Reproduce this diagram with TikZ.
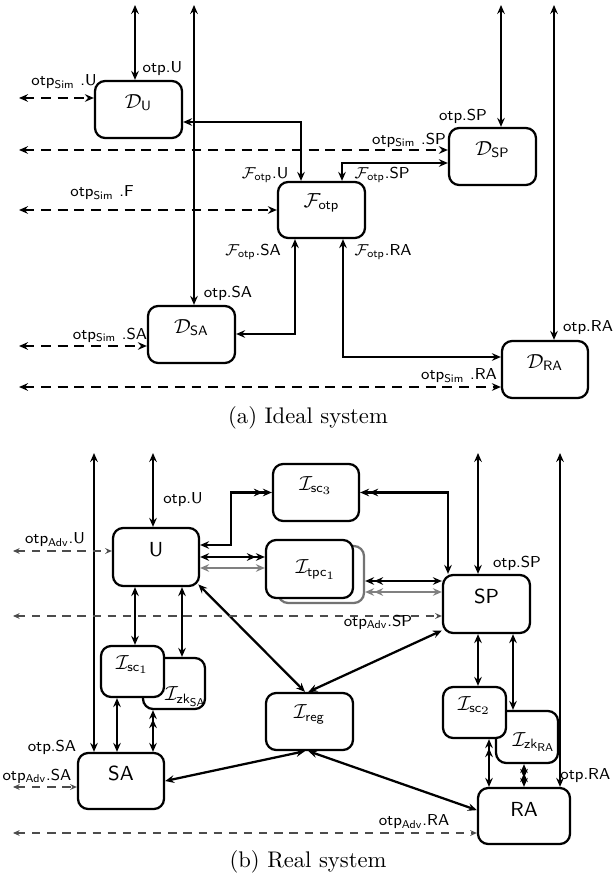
\documentclass[tikz,border=0pt]{standalone}
\usepackage{amsmath}
\usetikzlibrary{arrows.meta,fit}
\begin{document}
\begin{tikzpicture}[x=0.4425pt,y=-0.4425pt,
  >={Stealth[length=4pt,width=3.4pt,inset=1.4pt]},
  box/.style={draw,line width=1pt,rounded corners=4.5pt,fill=white,inner sep=0pt,font=\small\sffamily},
  sbox/.style={box,draw=black!55},
  con/.style={line width=1pt,<->},
  gcon/.style={line width=1pt,draw=black!50},
  dsh/.style={line width=1pt,<->,dash pattern=on 4.4pt off 3pt},
  dshb/.style={line width=0.6pt,draw=black!70,dash pattern=on 3.7pt off 3pt,
     arrows={Stealth[length=3pt,width=2.6pt,inset=1.1pt]-Stealth[length=3pt,width=2.6pt,inset=1.1pt]}},
  lbl/.style={font=\scriptsize\sffamily,inner sep=1pt},
  txt/.style={font=\small\sffamily,inner sep=0pt},
  captext/.style={font=\normalsize\rmfamily,inner sep=0pt},
]
\useasboundingbox (0,0) rectangle (614,885);

% ================= (a) Ideal system =================
\node[box,fit={(95,81)(182,138)}] (DU) {$\mathcal{D}_{\textsf{U}}$};
\node[box,fit={(449,128)(536,185)}] (DSP) {$\mathcal{D}_{\textsf{SP}}$};
\node[box,fit={(278,182)(365,238)}] (Fotp) {$\mathcal{F}_{\textsf{otp}}$};
\node[box,fit={(148,306)(235,363)}] (DSA) {$\mathcal{D}_{\textsf{SA}}$};
\node[box,fit={(502,341)(588,398)}] (DRA) {$\mathcal{D}_{\textsf{RA}}$};

\coordinate (t1) at (135,5);
\coordinate (t2) at (194,5);
\coordinate (t3) at (501,5);
\coordinate (t4) at (554,5);
\draw[con] (t1) -- (t1 |- DU.north);
\draw[con] (t2) -- (t2 |- DSA.north);
\draw[con] (t3) -- (t3 |- DSP.north);
\draw[con] (t4) -- (t4 |- DRA.north);

\draw[con] (DU.east |- 0,122) -| (301,0 |- Fotp.north);
\draw[con] (342,0 |- Fotp.north) |- (DSP.west |- 0,163);
\draw[con] (295,0 |- Fotp.south) |- (DSA.east |- 0,334);
\draw[con] (343,0 |- Fotp.south) |- (DRA.west |- 0,357);

\coordinate (d1) at (19,98);
\coordinate (d2) at (19,150);
\coordinate (d3) at (19,210);
\coordinate (d4) at (19,346);
\coordinate (d5) at (19,387);
\draw[dsh] (d1) -- (d1 -| DU.west);
\draw[dsh] (d2) -- (d2 -| DSP.west);
\draw[dsh] (d3) -- (d3 -| Fotp.west);
\draw[dsh] (d4) -- (d4 -| DSA.west);
\draw[dsh] (d5) -- (d5 -| DRA.west);

\node[lbl,anchor=west] (a1) at (140,69) {otp.U};
\node[lbl] (a2) at (64,82) {otp$_{\textsf{Sim}}$ .U};
\node[lbl] (a3) at (409,140) {otp$_{\textsf{Sim}}$ .SP};
\node[lbl] (a4) at (463,116) {otp.SP};
\node[lbl] (a5) at (265,175) {$\mathcal{F}_{\textsf{otp}}$.U};
\node[lbl] (a6) at (382,175) {$\mathcal{F}_{\textsf{otp}}$.SP};
\node[lbl] (a7) at (102,193) {otp$_{\textsf{Sim}}$ .F};
\node[lbl] (a8) at (253,252) {$\mathcal{F}_{\textsf{otp}}$.SA};
\node[lbl] (a9) at (383,252) {$\mathcal{F}_{\textsf{otp}}$.RA};
\node[lbl] (a10) at (228,293) {otp.SA};
\node[lbl] (a11) at (110,335) {otp$_{\textsf{Sim}}$ .SA};
\node[lbl] (a12) at (588,328) {otp.RA};
\node[lbl] (a13) at (459,376) {otp$_{\textsf{Sim}}$ .RA};
\node[captext] (capa) at (308,418) {(a) Ideal system};

% ================= (b) Real system =================
\node[box,fit={(273,464)(359,521)}] (Isc3) {$\mathcal{I}_{\textsf{sc}_3}$};
\node[box,fit={(113,528)(199,586)}] (U) {U};
\node[sbox,fit={(278,546)(364,603)}] (Itpcs) {};
\node[box,fit={(266,540)(353,598)}] (Itpc) {};
\node[txt] (Itpct) at (316,570) {$\mathcal{I}_{\textsf{tpc}_1}$};
\node[box,fit={(443,575)(530,633)}] (SP) {SP};
\node[box,fit={(143,658)(205,709)}] (IzkSA) {};
\node[txt] (IzkSAt) at (186,697) {$\mathcal{I}_{\textsf{zk}_{\textsf{SA}}}$};
\node[box,fit={(101,646)(164,697)}] (Isc1) {$\mathcal{I}_{\textsf{sc}_1}$};
\node[box,fit={(266,693)(353,750)}] (Ireg) {$\mathcal{I}_{\textsf{reg}}$};
\node[box,fit={(496,711)(558,763)}] (IzkRA) {};
\node[txt] (IzkRAt) at (534,742) {$\mathcal{I}_{\textsf{zk}_{\textsf{RA}}}$};
\node[box,fit={(443,687)(506,738)}] (Isc2) {$\mathcal{I}_{\textsf{sc}_2}$};
\node[box,fit={(78,753)(164,809)}] (SA) {SA};
\node[box,fit={(478,788)(570,844)}] (RA) {RA};

\coordinate (b1) at (94,453);
\coordinate (b2) at (153,453);
\coordinate (b3) at (478,453);
\coordinate (b4) at (560,453);
\draw[con] (b1) -- (b1 |- SA.north);
\draw[con] (b2) -- (b2 |- U.north);
\draw[con] (b3) -- (b3 |- SP.north);
\draw[con] (b4) -- (b4 |- RA.north);

\draw[line width=1pt,<->>] (U.east |- 0,545) -- ++(31,0) |- (Isc3.west);
\draw[line width=1pt,<<->] (Isc3.east) -| (448,0 |- SP.north);
\draw[line width=1pt,<->>] (U.east |- 0,557) -- (Itpc.west |- 0,557);
\draw[gcon,<->] (U.east |- 0,568) -- (Itpc.west |- 0,568);
\draw[line width=1pt,<<->] (Itpcs.east |- 0,581) -- (SP.west |- 0,581);
\draw[gcon,<<->] (Itpcs.east |- 0,592) -- (SP.west |- 0,592);

\draw[con] (135,0 |- U.south) -- (135,0 |- Isc1.north);
\draw[con] (182,0 |- U.south) -- (182,0 |- IzkSA.north);
\draw[con] (117,0 |- Isc1.south) -- (117,0 |- SA.north);
\draw[line width=1pt,<<->] (153,0 |- IzkSA.south) -- (153,0 |- SA.north);

\draw[con] ([xshift=-0.8pt,yshift=1.2pt]U.south east) -- ([xshift=-2pt]Ireg.north);
\draw[con] ([yshift=1.6pt]SP.south west) -- ([xshift=-0.5pt]Ireg.north);
\draw[con] (SA.east) -- ([xshift=-2pt]Ireg.south);
\draw[con] ([yshift=2.6pt]RA.west) -- ([xshift=-0.5pt]Ireg.south);

\draw[con] (478,0 |- SP.south) -- (478,0 |- Isc2.north);
\draw[con] (513,0 |- SP.south) -- (513,0 |- IzkRA.north);
\draw[line width=1pt,<<->] (489,0 |- Isc2.south) -- (489,0 |- RA.north);
\draw[line width=1pt,<<->>] (524,0 |- IzkRA.south) -- (524,0 |- RA.north);

\coordinate (e1) at (13,551);
\coordinate (e2) at (13,616);
\coordinate (e3) at (13,787);
\coordinate (e4) at (13,833);
\draw[dshb] (e1) -- (e1 -| U.west);
\draw[dshb] (e2) -- (e2 -| SP.west);
\draw[dshb] (e3) -- (e3 -| SA.west);
\draw[dshb] (e4) -- (e4 -| RA.west);

\node[lbl] (b5) at (183,500) {otp.U};
\node[lbl] (b6) at (55,540) {otp$_{\textsf{Adv}}$.U};
\node[lbl] (b7) at (517,563) {otp.SP};
\node[lbl] (b8) at (378,622) {otp$_{\textsf{Adv}}$.SP};
\node[lbl] (b9) at (52,747) {otp.SA};
\node[lbl] (b10) at (37,776) {otp$_{\textsf{Adv}}$.SA};
\node[lbl,anchor=east] (b11) at (613,776) {otp.RA};
\node[lbl] (b12) at (414,822) {otp$_{\textsf{Adv}}$.RA};
\node[captext] (capb) at (308,862) {(b) Real system};
\end{tikzpicture}
\end{document}
